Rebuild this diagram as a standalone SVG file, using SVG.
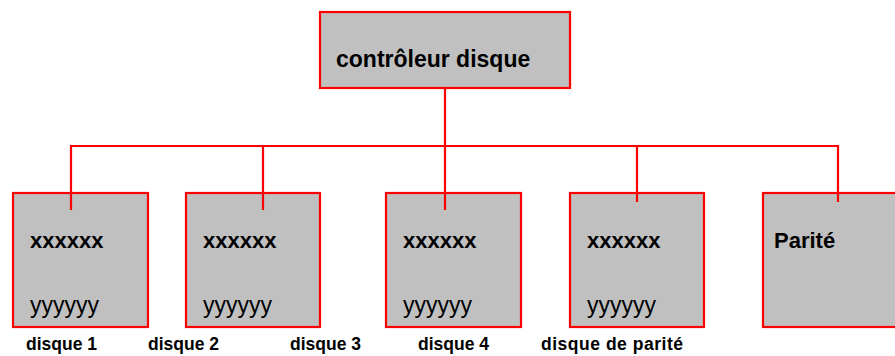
<svg xmlns="http://www.w3.org/2000/svg" width="895" height="356" viewBox="0 0 895 356">
<style>
.box{fill:#c0c0c0;stroke:#ff0000;stroke-width:2.2}
.ln{fill:none;stroke:#ff0000;stroke-width:2.2}
.b{font-family:"Liberation Sans",Arial,sans-serif;font-weight:bold;font-size:22px;fill:#000}
.t{font-family:"Liberation Sans",Arial,sans-serif;font-weight:bold;font-size:23px;fill:#000}
.r{font-family:"Liberation Sans",Arial,sans-serif;font-size:23px;fill:#000}
.lab{font-family:"Liberation Sans",Arial,sans-serif;font-weight:bold;font-size:17.5px;fill:#000}
</style>
<rect width="895" height="356" fill="#ffffff"/>
<g id="controleur">
<rect class="box" x="320" y="12" width="250" height="76"/>
<text class="t" x="336" y="67">contrôleur disque</text>
</g>
<g id="disque1">
<rect class="box" x="13" y="193" width="135" height="134"/>
<text class="b" x="30" y="248">xxxxxx</text>
<text class="r" x="30" y="313">yyyyyy</text>
</g>
<g id="disque2">
<rect class="box" x="186" y="193" width="134" height="134"/>
<text class="b" x="203" y="248">xxxxxx</text>
<text class="r" x="203" y="313">yyyyyy</text>
</g>
<g id="disque4">
<rect class="box" x="386" y="193" width="135" height="134"/>
<text class="b" x="403" y="248">xxxxxx</text>
<text class="r" x="403" y="313">yyyyyy</text>
</g>
<g id="disqueparite">
<rect class="box" x="570" y="193" width="134" height="134"/>
<text class="b" x="587" y="248">xxxxxx</text>
<text class="r" x="587" y="313">yyyyyy</text>
</g>
<g id="parite">
<rect class="box" x="763" y="193" width="140" height="134"/>
<text class="b" x="774" y="248">Parité</text>
</g>
<g id="connectors">
<path class="ln" d="M445 88 V210"/>
<path class="ln" d="M71 210 V146 H838 V202"/>
<path class="ln" d="M263 146 V210"/>
<path class="ln" d="M637 146 V202"/>
</g>
<g id="labels">
<text class="lab" x="26" y="350">disque 1</text>
<text class="lab" x="148" y="350">disque 2</text>
<text class="lab" x="290" y="350">disque 3</text>
<text class="lab" x="418" y="350">disque 4</text>
<text class="lab" x="541" y="350" textLength="142">disque de parité</text>
</g>
</svg>
